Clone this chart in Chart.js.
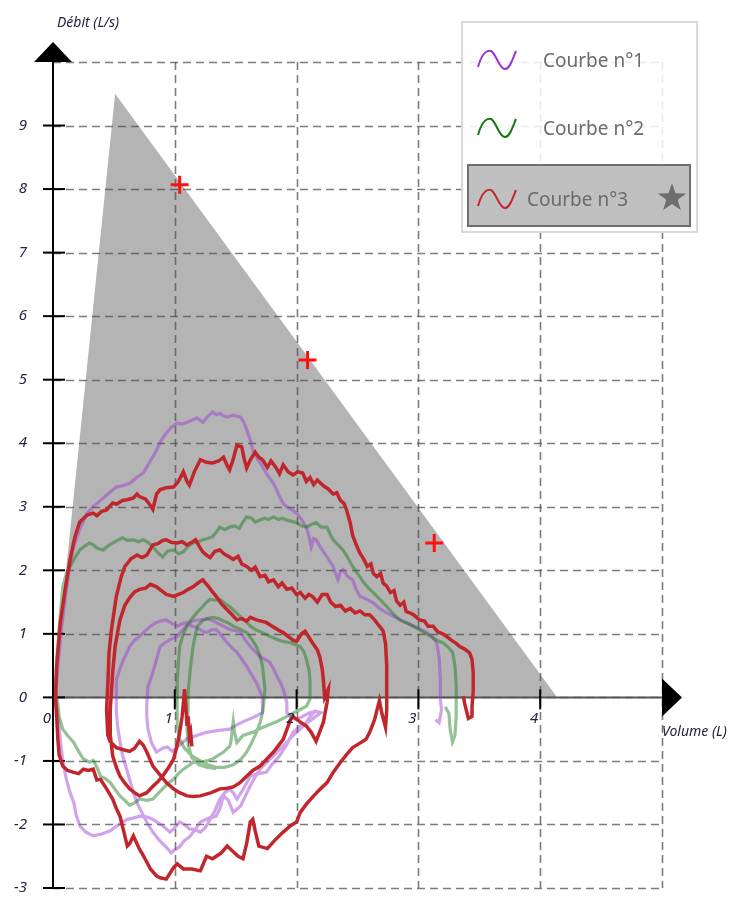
<!DOCTYPE html>
<html>
<head>
<meta charset="utf-8">
<script src="https://cdn.jsdelivr.net/npm/chart.js@4.4.0/dist/chart.umd.min.js"></script>
<style>
  html, body { margin: 0; padding: 0; background: #fff; }
  #wrap { position: relative; width: 740px; height: 900px; }
  #legend {
    position: absolute; left: 461px; top: 21px; width: 237px; height: 212px;
    box-sizing: border-box; border: 2px solid #d9d9d9;
    background: rgba(255, 255, 255, 0.85);
    font-family: "Noto Sans", sans-serif; font-size: 19px; color: #6b6b6b;
  }
  .icon { position: absolute; left: 14px; width: 40px; height: 20px; }
  .label { position: absolute; line-height: 24px; white-space: nowrap; }
  #sel {
    position: absolute; left: 4px; top: 141px; width: 224px; height: 63px;
    box-sizing: border-box; border: 2px solid #6e6e6e; background: rgba(185, 185, 185, 0.9);
  }
</style>
</head>
<body>
<div id="wrap">
  <canvas id="chart" width="740" height="900"></canvas>
  <div id="legend">
    <svg class="icon" style="top:27px" viewBox="0 0 40 20"><path d="M1,17 C5,3 10,0 14,1 C19,3 22,19 28,19 C33,19 36,8 39,1" fill="none" stroke="#9b30d9" stroke-width="2"/></svg>
    <span class="label" style="left:80px; top:25px">Courbe n°1</span>
    <svg class="icon" style="top:95px" viewBox="0 0 40 20"><path d="M1,17 C5,3 10,0 14,1 C19,3 22,19 28,19 C33,19 36,8 39,1" fill="none" stroke="#0e7a0e" stroke-width="2"/></svg>
    <span class="label" style="left:80px; top:93px">Courbe n°2</span>
    <div id="sel">
      <svg class="icon" style="left:8px; top:23px" viewBox="0 0 40 20"><path d="M1,17 C5,3 10,0 14,1 C19,3 22,19 28,19 C33,19 36,8 39,1" fill="none" stroke="#c0282d" stroke-width="2"/></svg>
      <span class="label" style="left:58px; top:21px">Courbe n°3</span>
      <svg style="position:absolute; left:188px; top:17px; width:30px; height:28px" viewBox="0 0 30 28"><polygon points="15,0 18.5,10.2 29.3,10.4 20.7,16.8 23.8,27.1 15,21 6.2,27.1 9.3,16.8 0.7,10.4 11.5,10.2" fill="#6e6e6e"/></svg>
    </div>
  </div>
</div>
<script>
// axis ranges and ticks
const xMin = 0, xMax = 5, yMin = -3, yMax = 10;
const xTickLabels = [0, 1, 2, 3, 4];
const yTickLabels = [-3, -2, -1, 0, 1, 2, 3, 4, 5, 6, 7, 8, 9];
const xGrid = [1, 2, 3, 4, 5];
const yGrid = [-3, -2, -1, 0, 1, 2, 3, 4, 5, 6, 7, 8, 9, 10];

// gray predicted zone
const zoneX = [0, 0.51, 4.14];
const zoneY = [0, 9.5, 0];

// red markers
const markX = [1.04, 2.09, 3.13];
const markY = [8.07, 5.31, 2.43];

// Courbe n°1 (purple) : [volume, débit]
const courbe1 = [
  [2.16,-0.2],[2.11,-0.3],[2.07,-0.42],[2.03,-0.5],[1.97,-0.6],[1.92,-0.71],[1.86,-0.82],[1.81,-0.92],[1.75,-1.03],[1.70,-1.13],
  [1.66,-1.25],[1.62,-1.39],[1.58,-1.55],[1.54,-1.71],[1.51,-1.76],[1.48,-1.81],[1.44,-1.62],[1.40,-1.55],[1.37,-1.75],[1.34,-1.87],
  [1.28,-1.9],[1.21,-1.96],[1.16,-2.1],[1.12,-2.2],[1.08,-2.25],[1.04,-2.35],[1.0,-2.4],[0.97,-2.45],[0.94,-2.38],[0.90,-2.3],
  [0.86,-2.22],[0.82,-2.12],[0.78,-2.0],[0.74,-1.85],[0.70,-1.7],[0.66,-1.5],[0.63,-1.3],[0.60,-1.1],[0.57,-0.9],[0.55,-0.7],
  [0.53,-0.45],[0.52,-0.2],[0.52,0.05],
  [0.52,0.28],[0.55,0.45],[0.58,0.6],[0.63,0.8],[0.67,0.9],[0.71,0.96],[0.76,1.05],[0.80,1.12],[0.84,1.17],[0.88,1.2],[0.93,1.22],
  [0.97,1.17],[1.02,1.12],[1.06,1.16],[1.10,1.18],[1.14,1.12],[1.18,1.1],[1.22,1.05],[1.26,1.02],[1.30,1.06],[1.34,1.07],[1.38,0.98],
  [1.43,0.86],[1.47,0.78],[1.51,0.71],[1.55,0.6],[1.59,0.49],[1.63,0.36],[1.67,0.23],[1.70,0.1],[1.72,-0.03],[1.72,-0.24],
  [1.66,-0.3],[1.6,-0.35],[1.52,-0.42],[1.45,-0.5],[1.36,-0.52],[1.26,-0.55],[1.18,-0.6],[1.1,-0.65],[1.04,-0.75],[0.98,-0.85],
  [0.94,-0.78],[0.9,-0.8],[0.85,-0.86],[0.81,-0.72],[0.78,-0.5],[0.77,-0.3],[0.77,-0.1],
  [0.78,0.17],[0.82,0.39],[0.85,0.6],[0.88,0.8],[0.92,0.86],[0.96,0.91],[1.02,0.96],[1.07,1.07],[1.12,1.18],[1.16,1.21],[1.21,1.22],
  [1.27,1.24],[1.34,1.18],[1.40,1.12],[1.45,1.07],[1.50,1.05],[1.54,1.02],[1.58,0.9],[1.62,0.8],[1.66,0.72],[1.70,0.64],[1.74,0.6],
  [1.78,0.55],[1.81,0.45],[1.84,0.33],[1.87,0.22],[1.89,0.13],[1.92,-0.08],[1.92,-0.24],[1.96,-0.32],[2.0,-0.35],[2.05,-0.3],
  [2.11,-0.24],[2.16,-0.22],[2.2,-0.24],
  [2.1,-0.38],[2.03,-0.45],[1.97,-0.55],[1.92,-0.74],[1.86,-0.92],[1.80,-1.05],[1.75,-1.18],[1.68,-1.2],[1.62,-1.24],[1.56,-1.45],
  [1.51,-1.6],[1.48,-1.5],[1.45,-1.44],[1.41,-1.5],[1.37,-1.6],[1.33,-1.78],[1.29,-1.92],[1.25,-2.05],[1.21,-2.12],[1.16,-2.08],
  [1.12,-2.07],[1.08,-2.0],[1.04,-1.96],[1.0,-2.05],[0.96,-2.12],[0.93,-2.07],[0.90,-2.02],[0.86,-1.97],[0.82,-1.92],[0.77,-1.88],
  [0.71,-1.87],[0.66,-1.9],[0.61,-1.92],[0.54,-2.0],[0.47,-2.1],[0.40,-2.15],[0.33,-2.18],[0.27,-2.12],[0.22,-2.02],[0.19,-1.85],
  [0.17,-1.65],[0.14,-1.5],[0.11,-1.29],[0.08,-1.0],[0.06,-0.66],[0.04,-0.3],[0.02,0],
  [0.04,0.5],[0.07,1.1],[0.11,1.7],[0.14,2.1],[0.17,2.37],[0.22,2.65],[0.28,2.9],[0.33,3.0],[0.39,3.1],[0.45,3.2],[0.52,3.31],
  [0.57,3.33],[0.63,3.37],[0.68,3.45],[0.74,3.53],[0.80,3.72],[0.85,3.89],[0.89,4.05],[0.93,4.16],[0.97,4.25],[1.02,4.32],[1.06,4.3],
  [1.10,4.33],[1.14,4.36],[1.18,4.40],[1.23,4.33],[1.27,4.42],[1.31,4.49],[1.34,4.45],[1.37,4.47],[1.40,4.43],[1.43,4.41],[1.48,4.44],
  [1.54,4.41],[1.57,4.32],[1.59,4.21],[1.62,4.05],[1.64,3.89],[1.68,3.75],[1.72,3.63],[1.76,3.5],[1.81,3.37],[1.84,3.25],[1.86,3.16],
  [1.89,3.05],[1.92,3.0],[1.96,2.95],[2.0,2.9],[2.04,2.8],[2.08,2.68],[2.10,2.55],[2.12,2.37],[2.14,2.5],[2.16,2.48],[2.20,2.35],
  [2.25,2.21],[2.28,2.12],[2.30,2.06],[2.32,1.95],[2.34,1.85],[2.36,1.98],[2.38,2.01],[2.42,1.9],[2.46,1.85],[2.49,1.7],[2.52,1.59],
  [2.57,1.55],[2.63,1.49],[2.68,1.4],[2.74,1.33],[2.80,1.27],[2.85,1.22],[2.90,1.17],[2.96,1.12],[3.02,1.07],[3.07,1.02],[3.11,0.96],
  [3.15,0.86],[3.17,0.64],[3.18,0.3],[3.18,-0.03],[3.19,-0.19],[3.17,-0.4],[3.14,-0.35]
];

// Courbe n°2 (green)
const courbe2 = [
  [1.34,-1.12],[1.26,-1.1],[1.2,-1.06],[1.14,-0.95],[1.11,-0.75],[1.10,-0.5],[1.11,-0.2],[1.11,0.1],[1.13,0.5],[1.15,0.8],[1.17,1.0],
  [1.19,1.13],[1.23,1.21],[1.27,1.24],[1.31,1.26],[1.36,1.24],[1.40,1.2],[1.43,1.18],[1.48,1.12],[1.53,1.08],[1.59,1.02],[1.63,0.92],
  [1.67,0.8],[1.70,0.65],[1.72,0.49],[1.74,0.13],[1.73,-0.1],[1.72,-0.24],[1.70,-0.4],[1.67,-0.55],[1.63,-0.72],[1.59,-0.86],
  [1.54,-0.98],[1.48,-1.06],[1.41,-1.1],[1.34,-1.1],[1.27,-1.06],[1.21,-1.0],[1.14,-0.92],[1.08,-0.8],[1.04,-0.66],[1.02,-0.45],
  [1.02,-0.2],[1.02,0.1],[1.02,0.28],[1.03,0.55],[1.04,0.8],[1.07,1.0],[1.10,1.12],[1.14,1.24],[1.18,1.33],[1.23,1.43],[1.26,1.5],
  [1.29,1.54],[1.33,1.53],[1.37,1.54],[1.41,1.48],[1.45,1.43],[1.49,1.36],[1.54,1.27],[1.58,1.2],[1.62,1.12],[1.67,1.06],[1.72,1.02],
  [1.78,0.96],[1.84,0.91],[1.89,0.88],[1.95,0.86],[2.0,0.82],[2.03,0.8],[2.06,0.72],[2.08,0.6],[2.10,0.45],[2.11,0.28],[2.11,-0.03],
  [2.08,-0.14],[2.03,-0.19],[1.97,-0.25],[1.92,-0.3],[1.84,-0.38],[1.75,-0.45],[1.69,-0.5],[1.64,-0.55],[1.56,-0.6],[1.51,-0.71],
  [1.49,-0.55],[1.48,-0.38],[1.46,-0.7],[1.45,-0.77],[1.40,-0.86],[1.35,-0.92],[1.31,-0.97],[1.26,-1.0],[1.21,-1.02],[1.15,-1.02],
  [1.11,-1.08],[1.07,-1.13],[1.03,-1.2],[0.99,-1.29],[0.94,-1.36],[0.90,-1.44],[0.86,-1.52],[0.82,-1.6],[0.77,-1.62],[0.71,-1.6],
  [0.67,-1.66],[0.63,-1.7],[0.59,-1.62],[0.55,-1.55],[0.51,-1.45],[0.47,-1.34],[0.43,-1.28],[0.39,-1.24],[0.36,-1.1],[0.33,-0.99],
  [0.30,-1.02],[0.25,-0.97],[0.21,-0.85],[0.17,-0.71],[0.12,-0.6],[0.08,-0.5],[0.05,-0.3],[0.04,-0.1],[0.02,0.1],
  [0.03,0.6],[0.06,1.3],[0.08,1.74],[0.11,1.95],[0.14,2.06],[0.18,2.2],[0.22,2.32],[0.26,2.38],[0.30,2.43],[0.33,2.4],[0.36,2.35],
  [0.41,2.32],[0.45,2.38],[0.49,2.43],[0.53,2.47],[0.57,2.51],[0.61,2.47],[0.66,2.48],[0.70,2.45],[0.74,2.48],[0.78,2.44],[0.82,2.37],
  [0.86,2.28],[0.90,2.21],[0.94,2.3],[0.99,2.32],[1.03,2.26],[1.07,2.29],[1.11,2.38],[1.15,2.43],[1.19,2.45],[1.23,2.48],[1.27,2.5],
  [1.31,2.53],[1.34,2.6],[1.37,2.68],[1.41,2.64],[1.45,2.68],[1.49,2.7],[1.53,2.66],[1.56,2.76],[1.59,2.84],[1.63,2.82],[1.66,2.76],
  [1.70,2.79],[1.74,2.82],[1.77,2.8],[1.81,2.84],[1.85,2.8],[1.88,2.82],[1.92,2.79],[1.96,2.77],[2.0,2.75],[2.04,2.7],[2.08,2.68],
  [2.12,2.72],[2.16,2.75],[2.20,2.68],[2.25,2.68],[2.28,2.55],[2.30,2.48],[2.34,2.4],[2.38,2.32],[2.42,2.2],[2.46,2.06],[2.50,1.95],
  [2.55,1.81],[2.59,1.72],[2.63,1.65],[2.68,1.55],[2.74,1.43],[2.80,1.3],[2.85,1.22],[2.90,1.18],[2.96,1.12],[3.03,1.04],[3.10,0.96],
  [3.15,0.9],[3.20,0.86],[3.25,0.78],[3.28,0.71],[3.30,0.5],[3.31,0.2],[3.31,-0.1],[3.31,-0.3],[3.30,-0.6],[3.28,-0.7],[3.26,-0.5],
  [3.25,-0.25],[3.22,-0.15]
];

// Courbe n°3 (red)
const courbe3 = [
  [1.14,-0.77],[1.13,-0.55],[1.12,-0.62],[1.11,-0.3],[1.10,-0.45],[1.09,-0.1],[1.08,0.13],[1.07,-0.1],[1.06,-0.3],[1.04,-0.55],
  [1.02,-0.75],[0.99,-0.97],[0.95,-1.1],[0.90,-1.24],[0.86,-1.33],[0.82,-1.4],[0.77,-1.5],[0.71,-1.55],[0.67,-1.5],[0.63,-1.44],
  [0.59,-1.35],[0.55,-1.24],[0.52,-1.1],[0.49,-0.92],[0.48,-0.75],[0.47,-0.6],[0.47,-0.4],[0.47,-0.2],
  [0.48,0.1],[0.49,0.4],[0.50,0.6],[0.51,0.8],[0.53,1.02],[0.55,1.22],[0.59,1.45],[0.63,1.57],[0.67,1.66],[0.71,1.70],[0.76,1.72],
  [0.80,1.78],[0.85,1.74],[0.89,1.68],[0.93,1.62],[0.99,1.59],[1.03,1.62],[1.07,1.65],[1.11,1.7],[1.15,1.74],[1.19,1.8],[1.23,1.85],
  [1.27,1.76],[1.31,1.66],[1.34,1.59],[1.38,1.48],[1.43,1.38],[1.47,1.3],[1.51,1.22],[1.55,1.24],[1.59,1.2],[1.62,1.26],[1.67,1.22],
  [1.71,1.2],[1.75,1.18],[1.80,1.12],[1.85,1.06],[1.89,1.02],[1.93,0.96],[1.97,0.9],[2.0,0.88],[2.04,1.0],[2.07,1.04],[2.10,0.95],
  [2.13,0.86],[2.17,0.75],[2.19,0.64],[2.21,0.45],[2.22,0.28],[2.23,0.0],
  [2.26,0.13],[2.25,-0.08],[2.22,-0.39],[2.16,-0.69],[2.12,-0.55],[2.08,-0.45],[2.03,-0.39],[1.97,-0.3],[1.95,-0.35],[1.89,-0.66],
  [1.81,-0.86],[1.75,-0.98],[1.70,-1.08],[1.64,-1.15],[1.59,-1.24],[1.53,-1.35],[1.48,-1.41],[1.43,-1.43],[1.37,-1.44],[1.30,-1.5],
  [1.21,-1.55],[1.15,-1.56],[1.10,-1.55],[1.04,-1.5],[0.99,-1.44],[0.93,-1.34],[0.87,-1.2],[0.82,-1.08],[0.77,-0.86],[0.74,-0.75],
  [0.71,-0.69],[0.67,-0.8],[0.63,-0.85],[0.57,-0.82],[0.52,-0.79],[0.47,-0.7],[0.45,-0.6],[0.44,-0.2],
  [0.45,0.2],[0.46,0.7],[0.48,1.07],[0.52,1.59],[0.56,1.9],[0.59,2.06],[0.64,2.18],[0.69,2.24],[0.73,2.2],[0.77,2.24],[0.82,2.40],
  [0.86,2.42],[0.90,2.47],[0.93,2.48],[0.97,2.44],[1.02,2.43],[1.06,2.45],[1.10,2.40],[1.14,2.44],[1.17,2.48],[1.20,2.38],[1.23,2.29],
  [1.26,2.24],[1.29,2.20],[1.33,2.3],[1.37,2.32],[1.41,2.25],[1.44,2.22],[1.48,2.17],[1.52,2.22],[1.55,2.1],[1.59,2.06],[1.63,2.0],
  [1.66,2.05],[1.70,1.90],[1.74,1.92],[1.77,1.82],[1.81,1.85],[1.85,1.74],[1.88,1.80],[1.92,1.70],[1.96,1.72],[2.0,1.62],[2.03,1.65],
  [2.07,1.56],[2.10,1.62],[2.13,1.59],[2.17,1.5],[2.21,1.62],[2.25,1.62],[2.28,1.5],[2.32,1.43],[2.36,1.45],[2.40,1.36],[2.44,1.4],
  [2.48,1.33],[2.52,1.36],[2.56,1.3],[2.60,1.3],[2.64,1.22],[2.68,1.12],[2.71,1.05],[2.73,0.85],[2.74,0.5],[2.74,0.1],[2.74,-0.2],
  [2.73,-0.47],[2.70,-0.25],[2.68,-0.05],[2.66,-0.2],[2.64,-0.35],[2.60,-0.55],[2.57,-0.66],[2.52,-0.72],[2.46,-0.79],[2.41,-0.9],
  [2.36,-1.02],[2.30,-1.18],[2.25,-1.34],[2.19,-1.45],[2.14,-1.55],[2.08,-1.68],[2.03,-1.81],[2.0,-1.96],[1.95,-2.02],[1.89,-2.12],
  [1.82,-2.25],[1.76,-2.38],[1.69,-2.34],[1.66,-2.1],[1.64,-1.92],[1.62,-1.96],[1.59,-2.3],[1.56,-2.54],[1.52,-2.5],[1.48,-2.43],
  [1.43,-2.34],[1.38,-2.45],[1.31,-2.54],[1.26,-2.5],[1.21,-2.73],[1.14,-2.7],[1.07,-2.7],[1.02,-2.62],[0.99,-2.68],[0.93,-2.86],
  [0.88,-2.84],[0.85,-2.81],[0.80,-2.7],[0.77,-2.59],[0.73,-2.45],[0.71,-2.39],[0.66,-2.18],[0.63,-2.3],[0.61,-2.34],[0.58,-2.1],
  [0.55,-1.87],[0.52,-1.75],[0.49,-1.6],[0.44,-1.44],[0.39,-1.29],[0.36,-1.3],[0.33,-1.13],[0.29,-1.15],[0.25,-1.13],[0.21,-1.2],
  [0.17,-1.18],[0.12,-1.15],[0.08,-1.08],[0.05,-0.9],[0.04,-0.66],[0.03,-0.3],[0.02,0],
  [0.03,0.49],[0.06,1.18],[0.10,1.7],[0.14,2.17],[0.18,2.53],[0.22,2.76],[0.28,2.87],[0.33,2.9],[0.36,2.86],[0.40,2.93],[0.44,2.95],
  [0.49,3.06],[0.52,3.04],[0.57,3.1],[0.61,3.11],[0.66,3.14],[0.69,3.2],[0.71,3.16],[0.76,3.12],[0.80,3.02],[0.82,2.96],[0.85,3.2],
  [0.88,3.27],[0.93,3.3],[0.99,3.31],[1.03,3.4],[1.07,3.55],[1.10,3.4],[1.12,3.34],[1.16,3.55],[1.21,3.74],[1.26,3.7],[1.31,3.69],
  [1.36,3.72],[1.40,3.78],[1.43,3.65],[1.45,3.58],[1.48,3.75],[1.51,3.97],[1.55,3.94],[1.57,3.75],[1.59,3.61],[1.62,3.74],[1.66,3.86],
  [1.69,3.78],[1.72,3.74],[1.76,3.62],[1.79,3.72],[1.83,3.62],[1.86,3.52],[1.89,3.66],[1.93,3.55],[1.97,3.5],[2.01,3.55],[2.05,3.53],
  [2.08,3.4],[2.11,3.46],[2.14,3.35],[2.17,3.42],[2.22,3.33],[2.26,3.28],[2.30,3.2],[2.33,3.22],[2.36,3.1],[2.39,3.05],[2.41,2.95],
  [2.44,2.75],[2.46,2.55],[2.49,2.4],[2.52,2.27],[2.55,2.18],[2.58,2.06],[2.61,2.1],[2.63,1.95],[2.66,1.9],[2.69,1.95],[2.71,1.8],
  [2.74,1.75],[2.77,1.65],[2.80,1.68],[2.82,1.52],[2.85,1.45],[2.88,1.5],[2.90,1.35],[2.93,1.33],[2.96,1.3],[3.01,1.22],[3.05,1.2],
  [3.08,1.12],[3.12,1.12],[3.16,1.03],[3.20,1.0],[3.23,0.96],[3.27,0.9],[3.31,0.85],[3.34,0.8],[3.38,0.76],[3.42,0.7],[3.44,0.6],
  [3.45,0.39],[3.45,0.1],[3.44,-0.15],[3.44,-0.3],[3.41,-0.33],[3.38,-0.1],[3.37,0.02]
];

const toPoints = arr => arr.map(p => ({ x: p[0], y: p[1] }));

// grid, axes, arrows: drawn right after the gray zone so the curves stay on top
const axesPlugin = {
  id: 'axes',
  afterDatasetDraw(chart, args) {
    if (args.index !== 0) return;
    const ctx = chart.ctx;
    const sx = chart.scales.x, sy = chart.scales.y;
    const x0 = sx.getPixelForValue(0), y0 = sy.getPixelForValue(0);
    const top = sy.getPixelForValue(yMax), bottom = sy.getPixelForValue(yMin);
    const right = sx.getPixelForValue(xMax);
    ctx.save();
    ctx.strokeStyle = 'rgba(80,80,80,0.75)';
    ctx.lineWidth = 1.6;
    ctx.setLineDash([8, 5]);
    yGrid.forEach(v => {
      const py = Math.round(sy.getPixelForValue(v)) + 0.5;
      ctx.beginPath(); ctx.moveTo(x0, py); ctx.lineTo(right, py); ctx.stroke();
    });
    xGrid.forEach(v => {
      const px = Math.round(sx.getPixelForValue(v)) + 0.5;
      ctx.beginPath(); ctx.moveTo(px, top); ctx.lineTo(px, bottom); ctx.stroke();
    });
    ctx.setLineDash([]);

    // x axis
    ctx.strokeStyle = '#555';
    ctx.lineWidth = 2;
    ctx.beginPath(); ctx.moveTo(x0, y0); ctx.lineTo(right, y0); ctx.stroke();
    ctx.fillStyle = '#000';
    ctx.beginPath(); ctx.moveTo(right, y0 - 19); ctx.lineTo(right, y0 + 19); ctx.lineTo(right + 20, y0); ctx.closePath(); ctx.fill();

    // y axis
    ctx.strokeStyle = '#000';
    ctx.beginPath(); ctx.moveTo(x0, bottom); ctx.lineTo(x0, top); ctx.stroke();
    ctx.beginPath(); ctx.moveTo(x0 - 19, top); ctx.lineTo(x0 + 19, top); ctx.lineTo(x0, top - 20); ctx.closePath(); ctx.fill();

    // tick marks
    ctx.lineWidth = 2;
    yTickLabels.forEach(v => {
      const py = sy.getPixelForValue(v);
      ctx.beginPath(); ctx.moveTo(x0 - 10, py); ctx.lineTo(x0 + 12, py); ctx.stroke();
    });
    xTickLabels.slice(1).forEach(v => {
      const px = sx.getPixelForValue(v);
      ctx.beginPath(); ctx.moveTo(px, y0 - 8); ctx.lineTo(px, y0 + 12); ctx.stroke();
    });
    ctx.restore();
  },
  afterDraw(chart) {
    const ctx = chart.ctx;
    const sx = chart.scales.x, sy = chart.scales.y;
    const x0 = sx.getPixelForValue(0), y0 = sy.getPixelForValue(0);
    ctx.save();
    ctx.fillStyle = '#24243e';
    ctx.font = 'italic 15px "Noto Sans"';
    ctx.textBaseline = 'middle';
    ctx.textAlign = 'right';
    yTickLabels.forEach(v => ctx.fillText(String(v), x0 - 26, sy.getPixelForValue(v)));
    xTickLabels.forEach(v => ctx.fillText(String(v), sx.getPixelForValue(v) - 2, y0 + 21));
    ctx.font = 'italic 14px "Noto Sans"';
    ctx.textAlign = 'left';
    ctx.fillText('Débit (L/s)', 57, 23);
    ctx.fillText('Volume (L)', 662, 732);
    ctx.restore();
  }
};

const lineStyle = { pointRadius: 0, tension: 0, fill: false };

new Chart(document.getElementById('chart'), {
  type: 'line',
  data: {
    datasets: [
      {
        label: 'zone',
        data: zoneX.map((x, i) => ({ x: x, y: zoneY[i] })),
        backgroundColor: '#b4b4b4',
        borderColor: 'rgba(0,0,0,0)',
        borderWidth: 0,
        pointRadius: 0,
        fill: 'origin',
        order: 10
      },
      Object.assign({ label: 'Courbe n°1', data: toPoints(courbe1), borderColor: 'rgba(150,50,210,0.45)', borderWidth: 3.2, order: 5 }, lineStyle),
      Object.assign({ label: 'Courbe n°2', data: toPoints(courbe2), borderColor: 'rgba(20,120,20,0.45)', borderWidth: 3.2, order: 4 }, lineStyle),
      Object.assign({ label: 'Courbe n°3', data: toPoints(courbe3), borderColor: '#c0262b', borderWidth: 3.5, order: 3 }, lineStyle),
      {
        label: 'repères',
        data: markX.map((x, i) => ({ x: x, y: markY[i] })),
        showLine: false,
        pointStyle: 'cross',
        pointRadius: 9,
        pointBorderWidth: 3,
        pointBorderColor: '#ff1010',
        order: 1
      }
    ]
  },
  options: {
    responsive: false,
    animation: false,
    events: [],
    layout: { padding: { left: 53, right: 78, top: 62, bottom: 10 } },
    plugins: { legend: { display: false }, tooltip: { enabled: false } },
    scales: {
      x: { type: 'linear', min: xMin, max: xMax, display: false },
      y: { type: 'linear', min: yMin, max: yMax, display: false }
    }
  },
  plugins: [axesPlugin]
});
</script>
</body>
</html>
